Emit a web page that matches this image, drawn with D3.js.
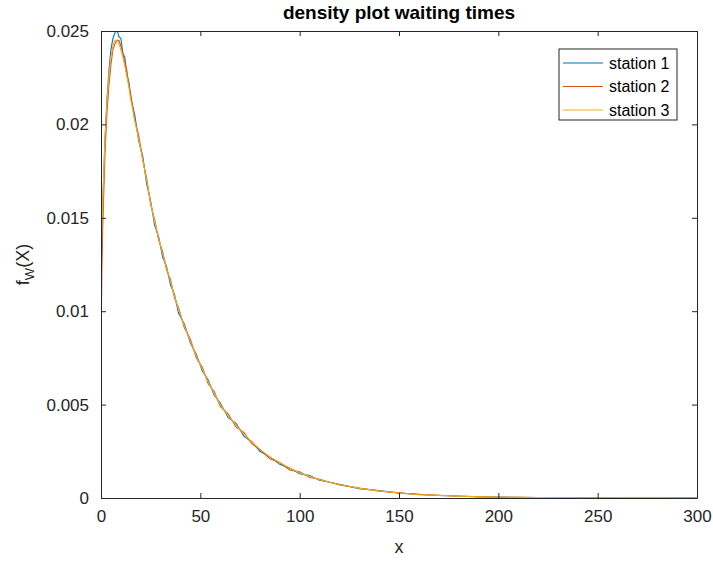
<!DOCTYPE html>
<html>
  <head>
    <meta charset='UTF-8'/>
    <script src="https://cdn.jsdelivr.net/npm/d3@7"></script>
    <style>
      body { margin : 0; background : white; }
      text { font-family : "Liberation Sans", Arial, sans-serif; fill : #262626; }
      .tick text { font-size : 17px; }
      .title { font-size : 19px; font-weight : bold; fill : #000; }
      .label { font-size : 18px; }
      .legend text { font-size : 16px; fill : #000; }
    </style>
  </head>
  <body>
    <svg id='fig' width='713' height='561'></svg>
    <script>
      // waiting time grid (x) and density per station
      const xs = [0, 0.5, 1, 2, 3, 4, 5, 6, 7, 8, 9, 10, 11, 12, 13, 14, 15, 17, 19, 21,
		  23, 25, 27, 29, 31, 33, 35, 37, 39, 42, 45, 48, 51, 54, 57, 60, 64, 68, 72, 76,
		  80, 85, 90, 95, 100, 105, 110, 120, 130, 140, 150, 160, 170, 180, 190, 200, 220, 240, 260, 280,
		  300]
      const station1 = [0.0110, 0.0138, 0.0160, 0.0192, 0.0213, 0.0229, 0.0240, 0.0246, 0.0249, 0.0251,
			0.0247, 0.0246, 0.0238, 0.0236, 0.0226, 0.0223, 0.0214, 0.0205, 0.0191, 0.0183,
			0.0168, 0.0159, 0.0146, 0.0140, 0.0129, 0.0124, 0.0114, 0.0109, 0.0099, 0.0093,
			0.0083, 0.0077, 0.0068, 0.0063, 0.0055, 0.0051, 0.0043, 0.0040, 0.0033, 0.0030,
			0.0025, 0.0022, 0.0018, 0.0016, 0.0013, 0.0012, 0.00095, 0.00074, 0.0005, 0.0004,
			0.00026, 0.0002, 0.00013, 0.00011, 0.00006, 0.00005, 0.00002, 0.00002, 0.000005, 0.00001,
			0]
      const station2 = [0.0077, 0.0128, 0.0150, 0.0184, 0.0206, 0.0221, 0.0232, 0.0240, 0.0243, 0.0245,
			0.0245, 0.0242, 0.0238, 0.0233, 0.0229, 0.0221, 0.0216, 0.0202, 0.0194, 0.0181,
			0.0171, 0.0157, 0.0149, 0.0138, 0.0132, 0.0122, 0.0117, 0.0107, 0.0102, 0.0091,
			0.0085, 0.0075, 0.0070, 0.0061, 0.0057, 0.0049, 0.0045, 0.0038, 0.0035, 0.0029,
			0.0026, 0.0021, 0.0019, 0.0015, 0.0014, 0.0011, 0.0010, 0.0007, 0.00053, 0.00037,
			0.00028, 0.00018, 0.00015, 0.00009, 0.00008, 0.00004, 0.00003, 0.00001, 0.00001, 0.000004,
			0]
      const station3 = [0.0129, 0.0145, 0.0162, 0.0192, 0.0212, 0.0226, 0.0236, 0.0242, 0.0245, 0.0245,
			0.0243, 0.0240, 0.0236, 0.0231, 0.0226, 0.0220, 0.0213, 0.0202, 0.0192, 0.0181,
			0.0170, 0.0158, 0.0148, 0.0139, 0.0131, 0.0123, 0.0116, 0.0108, 0.0101, 0.0092,
			0.0084, 0.0076, 0.0069, 0.0062, 0.0056, 0.0050, 0.0044, 0.0039, 0.0034, 0.0030,
			0.0026, 0.0022, 0.0019, 0.0016, 0.00135, 0.00115, 0.00098, 0.00072, 0.00052, 0.00038,
			0.00027, 0.00019, 0.00014, 0.0001, 0.00007, 0.00005, 0.00003, 0.000015, 0.00001, 0.000005,
			0.000003]
      const names = ["station 1", "station 2", "station 3"]
      const colors = ["#0072BD", "#D95319", "#EDB120"]
      const xTicks = [0, 50, 100, 150, 200, 250, 300]
      const yTicks = [0, 0.005, 0.01, 0.015, 0.02, 0.025]

      const mLeft = 101, mRight = 697, mTop = 31, mBottom = 498
      const svg = d3.select("#fig")

      const x = d3.scaleLinear().domain([0, 300]).range([mLeft, mRight])
      const y = d3.scaleLinear().domain([0, 0.025]).range([mBottom, mTop])

      // clip so the lines stay inside the box
      svg.append("clipPath").attr("id", "clip")
	  .append("rect").attr("x", mLeft).attr("y", mTop)
	  .attr("width", mRight - mLeft).attr("height", mBottom - mTop)

      const line = d3.line()
	    .x((d, i) => x(xs[i]))
	    .y(d => y(d))

      const series = [station1, station2, station3]
      svg.append("g").attr("clip-path", "url(#clip)")
	  .selectAll("path")
	  .data(series)
	  .join("path")
	  .attr("fill", "none")
	  .attr("stroke", (d, i) => colors[i])
	  .attr("stroke-width", 1.1)
	  .attr("d", line)

      // axes, MATLAB style: ticks inside, box on
      const fmt = d => d === 0 ? "0" : String(d)
      const axisStyle = g => {
	  g.select(".domain").attr("stroke", "#262626")
	  g.selectAll(".tick line").attr("stroke", "#262626")
      }
      svg.append("g").attr("transform", `translate(0,${mBottom})`)
	  .call(d3.axisBottom(x).tickValues(xTicks).tickSize(-5).tickPadding(12).tickSizeOuter(0))
	  .call(axisStyle)
      svg.append("g").attr("transform", `translate(0,${mTop})`)
	  .call(d3.axisTop(x).tickValues(xTicks).tickSize(-5).tickFormat("").tickSizeOuter(0))
	  .call(axisStyle)
      svg.append("g").attr("transform", `translate(${mLeft},0)`)
	  .call(d3.axisLeft(y).tickValues(yTicks).tickFormat(fmt).tickSize(-5).tickPadding(12).tickSizeOuter(0))
	  .call(axisStyle)
      svg.append("g").attr("transform", `translate(${mRight},0)`)
	  .call(d3.axisRight(y).tickValues(yTicks).tickSize(-5).tickFormat("").tickSizeOuter(0))
	  .call(axisStyle)
      svg.selectAll(".tick text").attr("fill", "#262626").attr("font-family", null).attr("font-size", null)

      svg.append("text").attr("class", "title")
	  .attr("x", (mLeft + mRight) / 2).attr("y", 19)
	  .attr("text-anchor", "middle")
	  .text("density plot waiting times")

      svg.append("text").attr("class", "label")
	  .attr("x", (mLeft + mRight) / 2).attr("y", 553)
	  .attr("text-anchor", "middle")
	  .text("x")

      const yl = svg.append("text").attr("class", "label")
	    .attr("transform", `translate(29,${(mTop + mBottom) / 2}) rotate(-90)`)
	    .attr("text-anchor", "middle")
      yl.append("tspan").text("f")
      yl.append("tspan").attr("font-size", "13px").attr("dy", 5).text("W")
      yl.append("tspan").attr("dy", -5).text("(X)")

      // legend
      const lg = svg.append("g").attr("class", "legend")
      lg.append("rect").attr("x", 559).attr("y", 49).attr("width", 118).attr("height", 71)
	  .attr("fill", "white").attr("stroke", "#262626").attr("stroke-width", 1)
      names.forEach((n, i) => {
	  const yy = 63 + i * 23.5
	  lg.append("line").attr("x1", 563).attr("x2", 603).attr("y1", yy).attr("y2", yy)
	      .attr("stroke", colors[i]).attr("stroke-width", 1.1)
	  lg.append("text").attr("x", 609).attr("y", yy + 5.5).text(n)
      })
    </script>
  </body>
</html>
